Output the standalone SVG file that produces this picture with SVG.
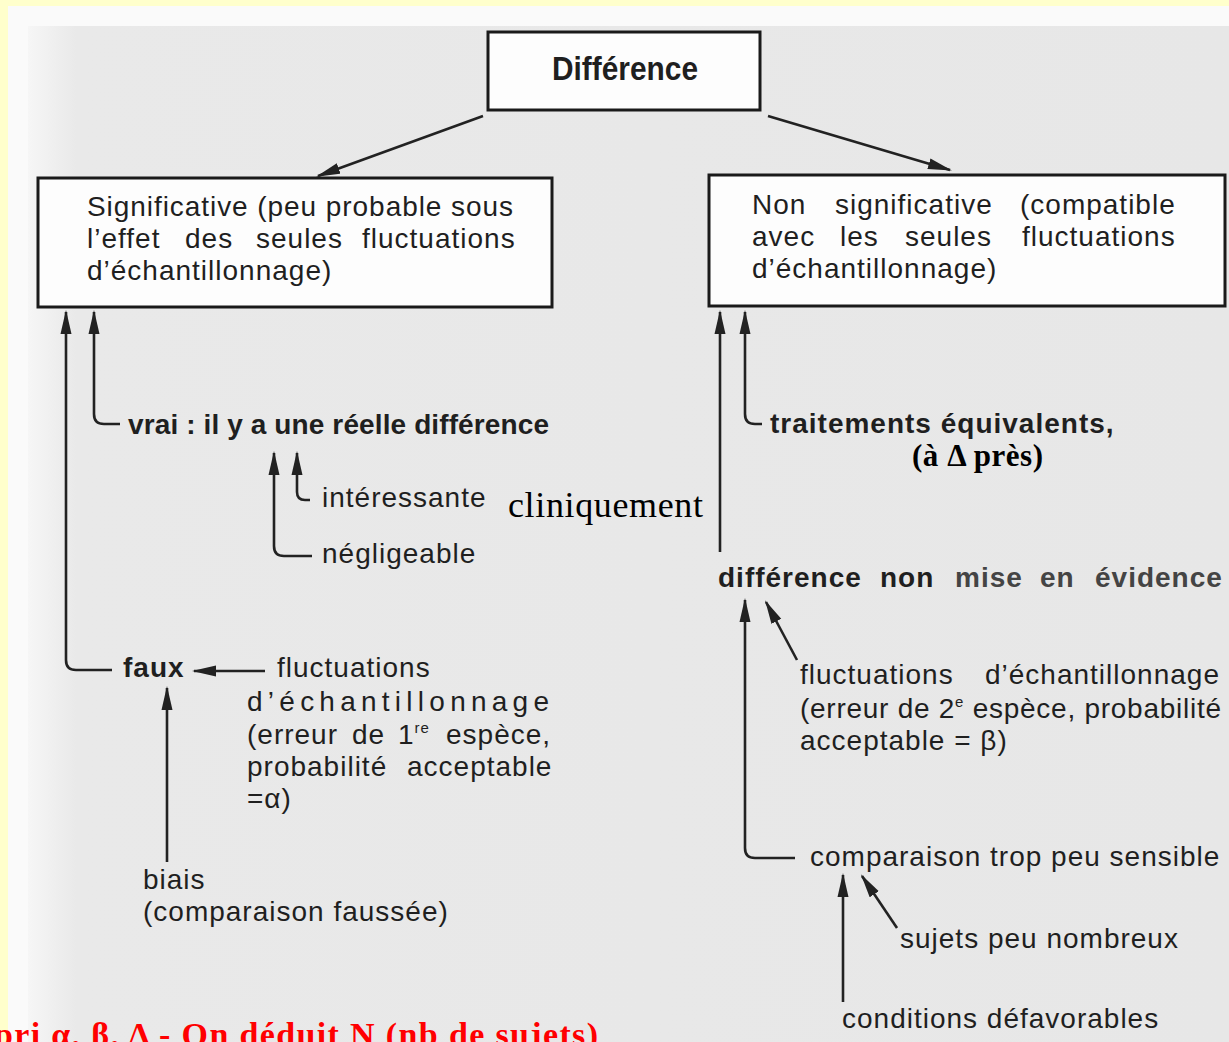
<svg xmlns="http://www.w3.org/2000/svg" width="1229" height="1042" viewBox="0 0 1229 1042">
<style>
.t{font-family:"Liberation Sans",Arial,Helvetica,sans-serif;font-size:28px;letter-spacing:1px;fill:#1f1f1f}
.b{font-weight:bold}
.g{fill:#444}
.box{fill:#fdfdfd;stroke:#1a1a1a;stroke-width:3}
.c{fill:none;stroke:#222;stroke-width:2.6;marker-end:url(#ah)}
.s{font-family:"Liberation Serif","Times New Roman",serif;fill:#000}
.sup{font-size:15px}
</style>
<defs>
<marker id="ah" markerUnits="userSpaceOnUse" markerWidth="24" markerHeight="12" refX="22" refY="6" orient="auto">
<path d="M0,0.5 L24,6 L0,11.5 z" fill="#222"/>
</marker>
<linearGradient id="bg" x1="0" y1="0" x2="1" y2="0">
<stop offset="0" stop-color="#f6f6f6"/>
<stop offset="0.04" stop-color="#e9e9e9"/>
<stop offset="1" stop-color="#e7e7e7"/>
</linearGradient>
</defs>
<rect width="1229" height="1042" fill="#ffffcc"/>
<rect x="8" y="6" width="1221" height="1036" fill="#fafafa"/>
<rect x="28" y="26" width="1201" height="1016" fill="url(#bg)"/>

<g id="connectors">
<path class="c" d="M483,116 L318,176"/>
<path class="c" d="M768,116 L950,170"/>
<path class="c" d="M112,670 H76 Q66,670 66,660 V312"/>
<path class="c" d="M120,424 H104 Q94,424 94,414 V312"/>
<path class="c" d="M310,500 H305 Q297,500 297,492 V453"/>
<path class="c" d="M312,556 H284 Q274,556 274,546 V453"/>
<path class="c" d="M265,671 H194"/>
<path class="c" d="M167,862 V688"/>
<path class="c" d="M762,424 H755 Q745,424 745,414 V312"/>
<path class="c" d="M720,552 V312"/>
<path class="c" d="M797,660 L766,602"/>
<path class="c" d="M795,858 H755 Q745,858 745,848 V600"/>
<path class="c" d="M897,928 L862,876"/>
<path class="c" d="M843,1002 V875"/>
</g>

<g id="n-difference">
<rect class="box" x="488" y="32" width="272" height="78"/>
<text class="t b" x="552" y="80" style="font-size:34px;letter-spacing:0" textLength="146" lengthAdjust="spacingAndGlyphs">Différence</text>
</g>

<g id="n-significative">
<rect class="box" x="38" y="178" width="514" height="129"/>
<text class="t" x="87" y="216" textLength="427" lengthAdjust="spacing">Significative (peu probable sous</text>
<text class="t" y="248"><tspan x="87">l’effet</tspan><tspan x="185">des</tspan><tspan x="256">seules</tspan><tspan x="362">fluctuations</tspan></text>
<text class="t" x="87" y="280">d’échantillonnage)</text>
</g>

<g id="n-nonsignificative">
<rect class="box" x="709" y="175" width="516" height="131"/>
<text class="t" y="214"><tspan x="752">Non</tspan><tspan x="835">significative</tspan><tspan x="1020">(compatible</tspan></text>
<text class="t" y="246"><tspan x="752">avec</tspan><tspan x="840">les</tspan><tspan x="905">seules</tspan><tspan x="1022">fluctuations</tspan></text>
<text class="t" x="752" y="278">d’échantillonnage)</text>
</g>

<g id="n-vrai">
<text class="t b" x="128" y="434" textLength="422" lengthAdjust="spacing">vrai : il y a une réelle différence</text>
</g>
<g id="n-interessante">
<text class="t" x="322" y="507">intéressante</text>
</g>
<g id="n-cliniquement">
<text class="s" x="508" y="517" style="font-size:36px" textLength="195" lengthAdjust="spacing">cliniquement</text>
</g>
<g id="n-negligeable">
<text class="t" x="322" y="563">négligeable</text>
</g>

<g id="n-faux">
<text class="t b" x="123" y="677">faux</text>
</g>
<g id="n-fluctuations1">
<text class="t" x="277" y="677">fluctuations</text>
<text class="t" x="247" y="711" textLength="303" lengthAdjust="spacing">d’échantillonnage</text>
<text class="t" y="744"><tspan x="247">(erreur</tspan><tspan x="352">de</tspan><tspan x="398">1</tspan><tspan class="sup" dy="-11">re</tspan><tspan x="446" dy="11">espèce,</tspan></text>
<text class="t" y="776"><tspan x="247">probabilité</tspan><tspan x="407">acceptable</tspan></text>
<text class="t" x="247" y="808">=α)</text>
</g>
<g id="n-biais">
<text class="t" x="143" y="889">biais</text>
<text class="t" x="143" y="921">(comparaison faussée)</text>
</g>

<g id="n-traitements">
<text class="t b" x="770" y="433">traitements équivalents,</text>
</g>
<g id="n-apres">
<text class="s" x="912" y="466" style="font-size:31px;font-weight:bold" textLength="131" lengthAdjust="spacing">(à Δ près)</text>
</g>
<g id="n-diffnon">
<text class="t b" y="587"><tspan x="718">différence</tspan><tspan x="880">non</tspan><tspan class="g" x="955">mise</tspan><tspan class="g" x="1040">en</tspan><tspan class="g" x="1095">évidence</tspan></text>
</g>
<g id="n-fluctuations2">
<text class="t" y="684"><tspan x="800">fluctuations</tspan><tspan x="985">d’échantillonnage</tspan></text>
<text class="t" x="800" y="718" textLength="422" lengthAdjust="spacing">(erreur de 2<tspan class="sup" dy="-11">e</tspan><tspan dy="11"> espèce, probabilité</tspan></text>
<text class="t" x="800" y="750">acceptable = β)</text>
</g>
<g id="n-comparaison">
<text class="t" x="810" y="866">comparaison trop peu sensible</text>
</g>
<g id="n-sujets">
<text class="t" x="900" y="948">sujets peu nombreux</text>
</g>
<g id="n-conditions">
<text class="t" x="842" y="1028">conditions défavorables</text>
</g>

<g id="n-footer">
<text class="s" x="-6" y="1046" style="font-size:34px;font-weight:bold;fill:#ff0000" textLength="604" lengthAdjust="spacing">pri α, β, Δ - On déduit N (nb de sujets)</text>
</g>
</svg>
